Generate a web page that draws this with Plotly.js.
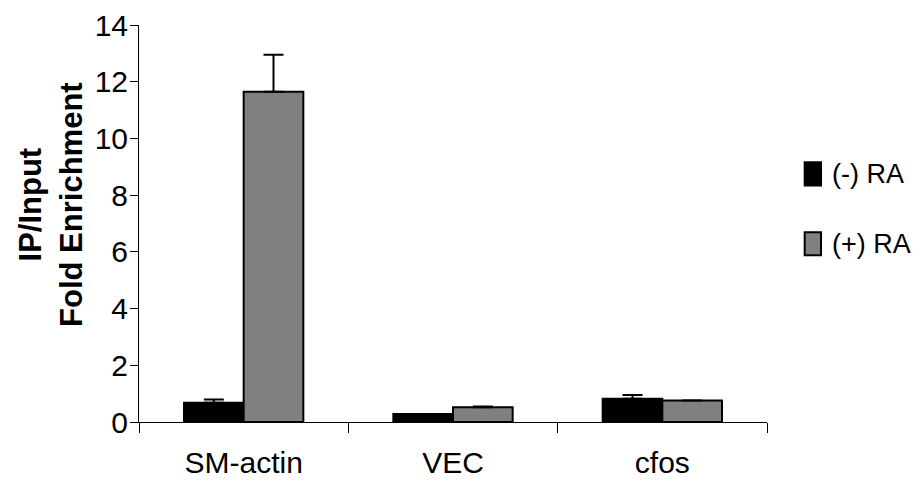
<!DOCTYPE html>
<html>
<head>
<meta charset="utf-8">
<script src="https://cdn.plot.ly/plotly-3.0.1.min.js"></script>
<style>html,body{margin:0;padding:0;background:#fff;}#chart{width:920px;height:500px;}</style>
</head>
<body>
<div id="chart"></div>
<script>
const categories = ["SM-actin", "VEC", "cfos"];
const seriesNames = ["(-) RA", "(+) RA"];
const minusRA = [0.68, 0.28, 0.82];
const plusRA = [11.65, 0.52, 0.76];
const minusErr = [0.11, 0, 0.13];
const plusErr = [1.3, 0.03, 0];
const zeros = [0, 0, 0];
const yTicks = [0, 2, 4, 6, 8, 10, 12, 14];
const yTitle = "<b>IP/Input<br>Fold Enrichment</b>";

const sans = '"Liberation Sans", Arial, sans-serif';
const colors = ["#000000", "#808080"];

function barTrace(name, y, err, color) {
  return {
    type: "bar", name: name, x: categories, y: y,
    marker: {color: color, line: {color: "#000", width: 2}},
    error_y: {type: "data", symmetric: false, array: err, arrayminus: zeros,
              color: "#000", thickness: 2, width: 10},
    showlegend: false, hoverinfo: "x+y"
  };
}

const data = [
  barTrace(seriesNames[0], minusRA, minusErr, colors[0]),
  barTrace(seriesNames[1], plusRA, plusErr, colors[1])
];

// custom legend (symbols as shapes, labels as annotations)
const legX = 1.06, legY = [0.625, 0.449];
const shapes = [], annotations = [];
seriesNames.forEach((n, i) => {
  shapes.push({type: "rect", xref: "paper", yref: "paper",
    x0: legX, x1: legX + 0.026, y0: legY[i] - 0.029, y1: legY[i] + 0.029,
    fillcolor: colors[i], line: {color: "#000", width: 2}});
  annotations.push({xref: "paper", yref: "paper", x: legX + 0.041, y: legY[i],
    xanchor: "left", yanchor: "middle", showarrow: false, text: n,
    font: {family: sans, size: 27, color: "#000"}});
});
annotations.push({xref: "paper", yref: "paper", x: -0.14, y: 0.547,
  xanchor: "center", yanchor: "middle", showarrow: false, textangle: -90,
  text: yTitle, font: {family: sans, size: 31, color: "#000"}});

const layout = {
  width: 920, height: 500,
  margin: {l: 139, r: 153, t: 25, b: 78, autoexpand: false},
  paper_bgcolor: "#fff", plot_bgcolor: "#fff",
  barmode: "group", bargap: 0.43, bargroupgap: 0,
  font: {family: sans, size: 30, color: "#000"},
  xaxis: {
    type: "category", tickson: "boundaries", ticks: "outside", ticklen: 10,
    tickwidth: 1, tickcolor: "#000", showline: true, linecolor: "#000", linewidth: 1,
    showgrid: false, zeroline: false, tickfont: {family: sans, size: 30, color: "#000"},
    ticklabelstandoff: 14, automargin: false
  },
  yaxis: {
    range: [0, 14], tickvals: yTicks, ticktext: yTicks.map(String),
    ticks: "outside", ticklen: 8, tickwidth: 1, tickcolor: "#000",
    showline: true, linecolor: "#000", linewidth: 1, showgrid: false, zeroline: false,
    tickfont: {family: sans, size: 30, color: "#000"},
    ticklabelstandoff: -4, automargin: false
  },
  shapes: shapes, annotations: annotations
};

Plotly.newPlot("chart", data, layout, {staticPlot: true});
</script>
</body>
</html>
